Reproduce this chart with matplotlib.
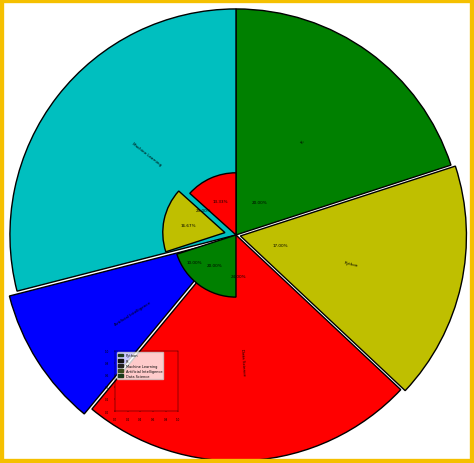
import matplotlib.pyplot as plt
from matplotlib.patches import Rectangle

# outer ring
labels = ['R', 'Python', 'Data Science', 'Artificial Intelligence', 'Machine Learning']
sizes = [20, 17, 24, 10, 29]
colors = ['g', 'y', 'r', 'b', 'c']
explode = [0, 0.02, 0, 0.04, 0]

# inner partial pie (not normalized)
inner_sizes = [0.1333, 0.1667, 0.20]
inner_colors = ['r', 'y', 'g']
inner_explode = [0, 0.05, 0]

legend_labels = ['Python', 'R', 'Machine Learning', 'Artificial Intelligence', 'Data Science']

fig = plt.figure(figsize=(4.74, 4.64), dpi=100)
fig.patch.set_facecolor('white')

ax = fig.add_axes([0, 0, 1, 1])
wedges, texts, autotexts = ax.pie(sizes, labels=labels, colors=colors, explode=explode,
                                  startangle=90, counterclock=False, autopct='%1.2f%%',
                                  pctdistance=0.18, labeldistance=0.5, rotatelabels=True,
                                  wedgeprops=dict(edgecolor='black', linewidth=1),
                                  textprops=dict(fontsize=3))
for t in texts:
    t.set_horizontalalignment('center')

ax.pie(inner_sizes, colors=inner_colors, explode=inner_explode, radius=0.275,
       startangle=90, counterclock=True, normalize=False, autopct='%1.2f%%',
       pctdistance=0.6, wedgeprops=dict(edgecolor='black', linewidth=1),
       textprops=dict(fontsize=3))
ax.set_aspect('auto')
ax.set_xlim(-1.044, 1.053)
ax.set_ylim(-1.009, 1.044)

fig.patches.append(Rectangle((0, 0), 1, 1, transform=fig.transFigure, fill=False,
                             edgecolor='#f5c000', linewidth=6, zorder=10))

inset = fig.add_axes([0.243, 0.112, 0.133, 0.13])
inset.patch.set_alpha(0)
inset.set_xlim(0, 1)
inset.set_ylim(0, 1)
inset.tick_params(labelsize=2, length=1, width=0.3)
for s in inset.spines.values():
    s.set_linewidth(0.3)
handles = [Rectangle((0, 0), 1, 1, color=c) for c in ['#1a3a1a', '#101010', '#202020', '#3a4a1a', '#1a3a1a']]
inset.legend(handles, legend_labels, loc='upper left', fontsize=2.5, frameon=True,
             handlelength=1.5, borderpad=0.3, labelspacing=0.3)

fig.savefig('out.png', dpi=100)
